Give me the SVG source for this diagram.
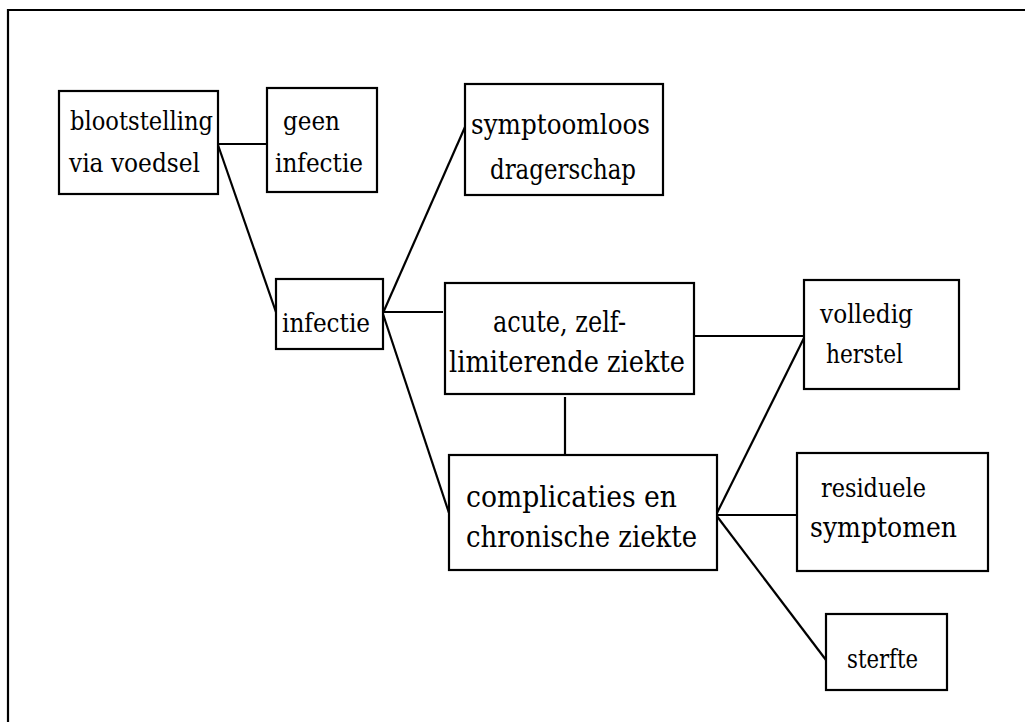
<svg xmlns="http://www.w3.org/2000/svg" width="1025" height="722" viewBox="0 0 1025 722">
<style>
.box{fill:#fff;stroke:#000;stroke-width:2.2}
.ln{stroke:#000;stroke-width:2.2;fill:none}
text{font-family:"DejaVu Serif","Liberation Serif",serif;fill:#000}
.t29{font-size:26px}
.t30{font-size:27px}
.t33{font-size:30px}
</style>
<rect width="1025" height="722" fill="#fff"/>
<path class="ln" d="M8,722 V10 H1025"/>
<g id="connectors">
<line class="ln" x1="218" y1="144" x2="267" y2="144"/>
<line class="ln" x1="218" y1="145" x2="277" y2="315"/>
<line class="ln" x1="383" y1="313" x2="465" y2="127"/>
<line class="ln" x1="383" y1="312" x2="443" y2="312"/>
<line class="ln" x1="383" y1="314" x2="449" y2="513"/>
<line class="ln" x1="565" y1="397" x2="565" y2="455"/>
<line class="ln" x1="691" y1="336" x2="805" y2="336"/>
<line class="ln" x1="716" y1="515" x2="804" y2="338"/>
<line class="ln" x1="716" y1="515" x2="797" y2="515"/>
<line class="ln" x1="716" y1="515" x2="826" y2="660"/>
</g>
<g id="blootstelling">
<rect class="box" x="59" y="91" width="159" height="103"/>
<text class="t29" x="70" y="130" textLength="143" lengthAdjust="spacingAndGlyphs">blootstelling</text>
<text class="t29" x="69" y="172" textLength="131" lengthAdjust="spacingAndGlyphs">via voedsel</text>
</g>
<g id="geen-infectie">
<rect class="box" x="267" y="88" width="110" height="104"/>
<text class="t29" x="283" y="130" textLength="57" lengthAdjust="spacingAndGlyphs">geen</text>
<text class="t29" x="275" y="172" textLength="88" lengthAdjust="spacingAndGlyphs">infectie</text>
</g>
<g id="symptoomloos">
<rect class="box" x="465" y="84" width="198" height="111"/>
<text class="t30" x="471" y="134" textLength="179" lengthAdjust="spacingAndGlyphs">symptoomloos</text>
<text class="t30" x="490" y="179" textLength="146" lengthAdjust="spacingAndGlyphs">dragerschap</text>
</g>
<g id="infectie">
<rect class="box" x="276" y="279" width="107" height="70"/>
<text class="t29" x="282" y="332" textLength="88" lengthAdjust="spacingAndGlyphs">infectie</text>
</g>
<g id="acute">
<rect class="box" x="445" y="283" width="249" height="111"/>
<text class="t33" x="493" y="332" textLength="133" lengthAdjust="spacingAndGlyphs">acute, zelf-</text>
<text class="t33" x="449" y="372" textLength="236" lengthAdjust="spacingAndGlyphs">limiterende ziekte</text>
</g>
<g id="complicaties">
<rect class="box" x="449" y="455" width="268" height="115"/>
<text class="t33" x="466" y="507" textLength="211" lengthAdjust="spacingAndGlyphs">complicaties en</text>
<text class="t33" x="466" y="547" textLength="231" lengthAdjust="spacingAndGlyphs">chronische ziekte</text>
</g>
<g id="volledig-herstel">
<rect class="box" x="804" y="280" width="155" height="109"/>
<text class="t29" x="820" y="323" textLength="93" lengthAdjust="spacingAndGlyphs">volledig</text>
<text class="t29" x="826" y="363" textLength="77" lengthAdjust="spacingAndGlyphs">herstel</text>
</g>
<g id="residuele-symptomen">
<rect class="box" x="797" y="453" width="191" height="118"/>
<text class="t29" x="821" y="497" textLength="105" lengthAdjust="spacingAndGlyphs">residuele</text>
<text class="t30" x="810" y="537" textLength="147" lengthAdjust="spacingAndGlyphs">symptomen</text>
</g>
<g id="sterfte">
<rect class="box" x="826" y="614" width="121" height="76"/>
<text class="t29" x="847" y="668" textLength="71" lengthAdjust="spacingAndGlyphs">sterfte</text>
</g>
</svg>
